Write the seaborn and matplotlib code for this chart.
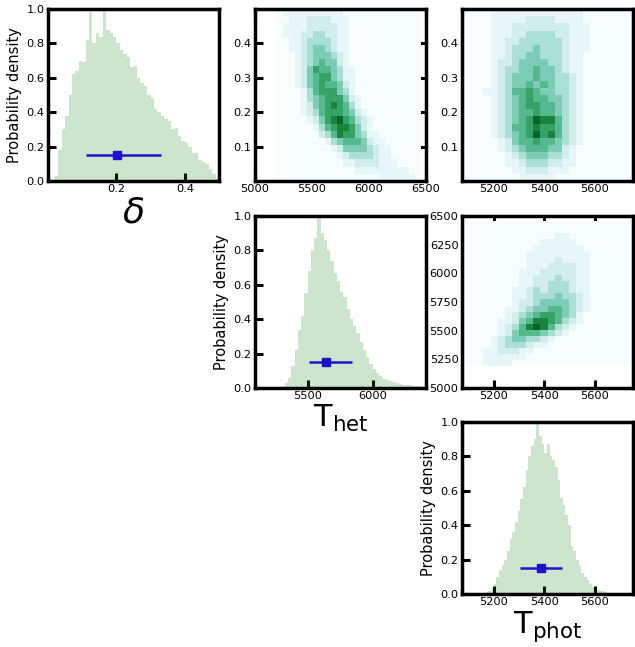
import numpy as np
import pandas as pd
import matplotlib
matplotlib.use("Agg")
import matplotlib.pyplot as plt
import seaborn as sns

sns.set_style("white")
plt.rcParams["font.family"] = ["DejaVu Sans"]
plt.rcParams["mathtext.fontset"] = "dejavusans"
plt.rcParams["text.color"] = "black"
plt.rcParams["axes.labelcolor"] = "black"
plt.rcParams["xtick.color"] = "black"
plt.rcParams["ytick.color"] = "black"

# ---------------- data ----------------
# delta histogram (bins of 0.01 from 0.02 to 0.50), normalised to peak 1
delta_bin_lo, delta_bin_w = 0.02, 0.01
delta_hist = [0.03, 0.18, 0.30, 0.38, 0.50, 0.62, 0.64, 0.70, 0.69, 0.82,
              0.98, 0.80, 0.86, 0.84, 0.99, 0.88, 0.86, 0.84, 0.80, 0.76,
              0.74, 0.72, 0.66, 0.67, 0.60, 0.57, 0.55, 0.50, 0.48, 0.42,
              0.40, 0.38, 0.36, 0.35, 0.30, 0.31, 0.26, 0.23, 0.22, 0.20,
              0.16, 0.16, 0.12, 0.11, 0.10, 0.07, 0.04, 0.02]

# T_het histogram (bins of 25 K from 5200 K)
thet_bin_lo, thet_bin_w = 5200, 25
thet_hist = [0.004, 0.004, 0.004, 0.004,
             0.01, 0.03, 0.06, 0.13, 0.22, 0.34, 0.42, 0.55, 0.68, 0.80,
             0.87, 1.00, 0.90, 0.86, 0.80, 0.74, 0.67, 0.62, 0.56, 0.53,
             0.46, 0.40, 0.36, 0.32, 0.27, 0.22, 0.18, 0.14, 0.11, 0.09,
             0.07, 0.05, 0.045, 0.04, 0.035, 0.03, 0.025, 0.02, 0.02, 0.015,
             0.012, 0.01, 0.01, 0.005]

# T_phot histogram (bins of 10.5 K from 5158 K)
tphot_bin_lo, tphot_bin_w = 5158, 10.5
tphot_hist = [0.005, 0.01, 0.02, 0.03,
              0.06, 0.10, 0.14, 0.17, 0.20, 0.25, 0.32, 0.36, 0.42, 0.48,
              0.55, 0.62, 0.72, 0.80, 0.86, 0.90, 1.00, 0.92, 0.87, 0.82,
              0.87, 0.80, 0.78, 0.74, 0.66, 0.56, 0.52, 0.46, 0.40, 0.28,
              0.25, 0.20, 0.16, 0.12, 0.10, 0.08, 0.06, 0.04,
              0.03, 0.025, 0.02, 0.015, 0.01, 0.008, 0.005]

# summary values: median, lower, upper
delta_summary = [0.201, 0.110, 0.329]
thet_summary = [5644, 5513, 5841]
tphot_summary = [5387, 5305, 5470]
summary_level = 0.15

# ranges of the samples
delta_range = [0.0, 0.5]
thet_range = [5190, 6460]
tphot_range = [5075, 5750]

# 2D density grids (24 x 24, rows listed from top = high y), intensity 0-9
grid_thet_delta = [
    "011111111110000000000000",
    "001112222111000000000000",
    "011112222211000000000000",
    "011122332211000000000000",
    "001123333211000000000000",
    "001123443211000000000000",
    "000123444321000000000000",
    "000123454421000000000000",
    "000124655431100000000000",
    "000124566431100000000000",
    "000124565542100000000000",
    "000013566643100000000000",
    "000013456664210000000000",
    "000012456765310000000000",
    "000012356665421000000000",
    "000001246786532100000000",
    "000000135677642100000000",
    "000000023576643110000000",
    "000000001345554211000000",
    "000000000124444321100000",
    "000000000012333321100000",
    "000000000001122221110000",
    "000000000000011111111100",
    "000000000000000001111110",
]
grid_tphot_delta = [
    "000011111111111110000000",
    "000011111222211110000000",
    "000011122222222111000000",
    "000011122333322111000000",
    "000011223333332111000000",
    "000011233343332111000000",
    "000011233443332110000000",
    "000012234444332110000000",
    "000012334454432110000000",
    "000012344454433210000000",
    "000012344545433210000000",
    "000112355654433210000000",
    "000012345655443210000000",
    "000012345665543210000000",
    "000012345565543210000000",
    "000012345687753210000000",
    "000012355676653210000000",
    "000012345686753210000000",
    "000001245565543210000000",
    "000001234555442100000000",
    "000000123444332100000000",
    "000000112333221100000000",
    "000000011222111000000000",
    "000000001111100000000000",
]
grid_tphot_thet = [
    "000000000000000000000000",
    "000000000000000000000000",
    "000000000000011000000000",
    "000000000001111100000000",
    "000000000011111110000000",
    "000000000111111111000000",
    "000000000111121111000000",
    "000000000111222211000000",
    "000000001112222211000000",
    "000000001122232211000000",
    "000000001122333211000000",
    "000000011232333211000000",
    "000000011233343321000000",
    "000000012234444321000000",
    "000000112344554321000000",
    "000000123456654310000000",
    "000001124577653210000000",
    "000001235787532100000000",
    "000001245554321000000000",
    "000012344332100000000000",
    "000012333211000000000000",
    "000112221100000000000000",
    "000111111000000000000000",
    "000111100000000000000000",
]

# ---------------- styling ----------------
HIST_COLOR = "green"
ERR_COLOR = "#1f10cc"
TICK_FS = 8.2
SPINE_W = 2.5

fig = plt.figure(figsize=(6.35, 6.47), dpi=100)
W, H = 171 / 635, 172 / 647
lefts = [48 / 635, 255 / 635, 462 / 635]
tops = [9, 216, 422]


def make_ax(r, c):
    return fig.add_axes([lefts[c], 1 - (tops[r] + 172) / 647, W, H])


def style(ax, all_sides):
    for s in ax.spines.values():
        s.set_linewidth(SPINE_W)
        s.set_color("black")
    ax.tick_params(direction="in", length=6, width=2.2, labelsize=TICK_FS,
                   pad=2.5, top=all_sides, right=all_sides,
                   bottom=True, left=True, colors="black")


def diag(ax, lo, w, heights, summary, xlim, xticks, label, lfs):
    n = len(heights)
    centers = lo + w * (np.arange(n) + 0.5)
    edges = (lo + w * np.arange(n + 1)).tolist()
    df = pd.DataFrame({"x": centers, "h": heights})
    sns.histplot(data=df, x="x", weights="h", bins=edges, element="step",
                 fill=True, color=HIST_COLOR, alpha=0.2, linewidth=0, ax=ax)
    med, l, u = summary
    ax.errorbar([med], [summary_level], xerr=[[med - l], [u - med]], fmt="s",
                color=ERR_COLOR, ms=6, lw=1.8, capsize=0)
    ax.set_xlim(*xlim)
    ax.set_ylim(0, 1.0)
    ax.set_xticks(xticks)
    ax.set_yticks([0.0, 0.2, 0.4, 0.6, 0.8, 1.0])
    ax.set_ylabel("Probability density", fontsize=10.5, labelpad=3)
    ax.set_xlabel(label, fontsize=lfs, labelpad=1)
    style(ax, False)


def dens(ax, grid, xr, yr, xlim, ylim, xticks, yticks):
    ncol = max(len(r) for r in grid)
    vals = np.array([[int(ch) for ch in row.ljust(ncol, "0")] for row in grid],
                    float)[::-1]
    ny, nx = vals.shape
    xe = np.linspace(xr[0], xr[1], nx + 1)
    ye = np.linspace(yr[0], yr[1], ny + 1)
    xc = 0.5 * (xe[:-1] + xe[1:])
    yc = 0.5 * (ye[:-1] + ye[1:])
    X, Y = np.meshgrid(xc, yc)
    df = pd.DataFrame({"x": X.ravel(), "y": Y.ravel(), "w": vals.ravel()})
    sns.histplot(data=df, x="x", y="y", weights="w",
                 bins=[xe.tolist(), ye.tolist()],
                 cmap="BuGn", thresh=None, vmin=0, vmax=9, ax=ax)
    ax.set_xlim(*xlim)
    ax.set_ylim(*ylim)
    ax.set_xticks(xticks)
    ax.set_yticks(yticks)
    ax.set_xlabel("")
    ax.set_ylabel("")
    style(ax, True)


ax00 = make_ax(0, 0)
diag(ax00, delta_bin_lo, delta_bin_w, delta_hist, delta_summary, (0.0, 0.5),
     [0.2, 0.4], r"$\delta$", 26)

ax11 = make_ax(1, 1)
diag(ax11, thet_bin_lo, thet_bin_w, thet_hist, thet_summary, (5095, 6410),
     [5500, 6000], r"$\mathrm{T_{het}}$", 22)

ax22 = make_ax(2, 2)
diag(ax22, tphot_bin_lo, tphot_bin_w, tphot_hist, tphot_summary, (5075, 5750),
     [5200, 5400, 5600], r"$\mathrm{T_{phot}}$", 22)

ax01 = make_ax(0, 1)
dens(ax01, grid_thet_delta, thet_range, delta_range, (5000, 6500), (0.0, 0.5),
     [5000, 5500, 6000, 6500], [0.1, 0.2, 0.3, 0.4])

ax02 = make_ax(0, 2)
dens(ax02, grid_tphot_delta, tphot_range, delta_range, (5075, 5750), (0.0, 0.5),
     [5200, 5400, 5600], [0.1, 0.2, 0.3, 0.4])

ax12 = make_ax(1, 2)
dens(ax12, grid_tphot_thet, tphot_range, thet_range, (5075, 5750), (5000, 6500),
     [5200, 5400, 5600], [5000, 5250, 5500, 5750, 6000, 6250, 6500])

fig.savefig("out.png", dpi=100)
